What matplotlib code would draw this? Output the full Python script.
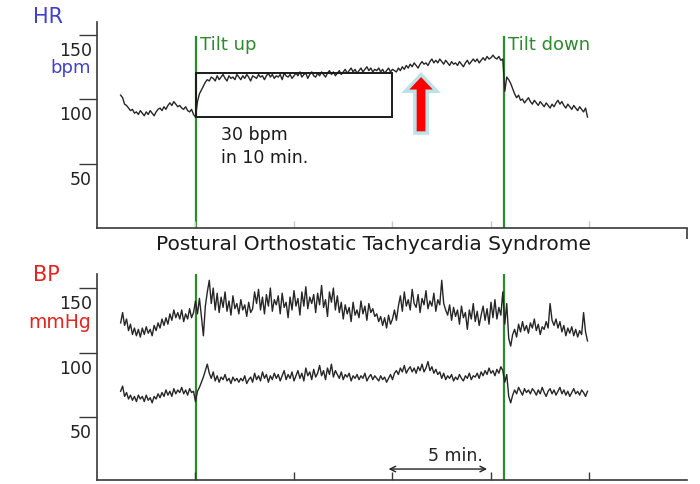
import numpy as np
import matplotlib
matplotlib.use("Agg")
import matplotlib.pyplot as plt
from matplotlib.patches import FancyArrow, Rectangle
from matplotlib.transforms import ScaledTranslation

# ---------------- data ----------------
t_start = 1.2      # minutes
t_step = 0.1       # minutes per sample

hr_bpm = [
    103, 101, 96, 95, 93, 91, 92, 89, 90, 88,
    91, 89, 87, 90, 88, 91, 89, 87, 90, 92,
    93, 91, 94, 92, 95, 97, 95, 98, 96, 94,
    95, 93, 92, 94, 91, 90, 92, 88, 86, 98,
    104, 107, 110, 113, 115, 114, 117, 116, 114, 118,
    115, 117, 119, 116, 114, 118, 116, 117, 115, 119,
    117, 115, 118, 116, 119, 117, 114, 118, 117, 116,
    119, 117, 118, 115, 118, 120, 117, 119, 116, 118,
    117, 119, 115, 120, 118, 117, 119, 116, 118, 120,
    118, 121, 117, 119, 120, 116, 119, 121, 118, 117,
    120, 118, 121, 119, 117, 120, 122, 119, 121, 118,
    120, 122, 119, 121, 123, 120, 122, 124, 121, 123,
    120, 122, 124, 121, 123, 125, 122, 124, 121, 123,
    122, 124, 121, 123, 120, 122, 124, 121, 123, 122,
    121, 124, 122, 125, 123, 126, 124, 127, 125, 128,
    126, 124, 127, 129, 127, 128, 126, 129, 131, 128,
    130, 128, 131, 129, 127, 130, 128, 126, 129, 127,
    128, 126, 129, 127, 125, 128, 130, 127, 129, 131,
    129, 131, 128, 130, 132, 130, 133, 131, 132, 134,
    132, 131, 133, 130, 131, 106, 117, 115, 112, 108,
    104, 101, 103, 99, 100, 97, 99, 101, 98, 96,
    99, 97, 95, 98, 96, 94, 97, 95, 93, 96,
    94, 97, 99, 96, 98, 95, 93, 96, 94, 92,
    95, 93, 91, 94, 92, 90, 93, 86,
]

bp_systolic = [
    123, 131, 121, 126, 117, 122, 114, 119, 113, 118,
    112, 119, 114, 120, 115, 118, 113, 121, 117, 123,
    119, 126, 121, 127, 122, 130, 125, 133, 127, 131,
    126, 133, 124, 130, 126, 134, 127, 131, 140, 130,
    142, 128, 113, 136, 147, 156, 138, 150, 133, 146,
    131, 143, 135, 147, 132, 140, 129, 144, 134, 138,
    130, 141, 133, 137, 128, 139, 131, 134, 147, 138,
    149, 133, 143, 130, 145, 136, 150, 132, 141, 137,
    144, 130, 146, 135, 139, 127, 143, 133, 148, 136,
    142, 129, 147, 136, 151, 134, 143, 138, 145, 131,
    146, 137, 152, 135, 141, 128, 147, 139, 150, 133,
    144, 131, 139, 126, 137, 130, 135, 124, 139, 129,
    133, 127, 140, 130, 136, 125, 138, 131, 134, 128,
    130, 124, 128, 121, 127, 119, 129, 122, 126, 133,
    125, 136, 144, 132, 147, 136, 141, 133, 149, 138,
    135, 145, 131, 142, 137, 148, 134, 140, 136, 146,
    132, 141, 137, 156, 138, 133, 129, 137, 125, 135,
    128, 133, 122, 136, 127, 131, 118, 133, 126, 138,
    124, 132, 121, 129, 136, 125, 134, 122, 139, 127,
    141, 126, 135, 129, 147, 122, 138, 111, 105, 114,
    118, 112, 122, 116, 124, 117, 121, 115, 123, 119,
    126, 117, 122, 114, 120, 118, 124, 119, 138, 125,
    121, 126, 119, 124, 116, 121, 113, 119, 115, 120,
    113, 118, 112, 117, 114, 131, 116, 109,
]

bp_diastolic = [
    70, 74, 66, 69, 64, 67, 63, 66, 62, 67,
    64, 66, 62, 67, 63, 65, 61, 66, 64, 68,
    65, 69, 66, 71, 67, 70, 66, 72, 68, 71,
    69, 73, 68, 71, 67, 72, 69, 70, 62, 70,
    73, 77, 81, 86, 91, 84, 80, 85, 78, 82,
    77, 81, 79, 83, 78, 80, 76, 81, 78, 80,
    77, 80, 78, 82, 76, 79, 81, 77, 84, 79,
    82, 78, 85, 80, 83, 77, 82, 79, 84, 80,
    83, 78, 82, 86, 79, 83, 80, 85, 78, 82,
    86, 80, 84, 78, 88, 82, 85, 79, 87, 81,
    84, 90, 82, 86, 79, 88, 83, 91, 81, 86,
    83, 80, 85, 79, 83, 81, 84, 78, 82, 80,
    83, 79, 82, 80, 84, 78, 81, 83, 79, 82,
    80, 78, 82, 79, 81, 77, 80, 83, 79, 84,
    86, 83, 88, 85, 90, 84, 87, 89, 85, 88,
    84, 89, 86, 91, 85, 88, 93, 86, 89, 84,
    87, 83, 85, 80, 84, 79, 82, 80, 83, 78,
    81, 79, 83, 80, 78, 82, 80, 84, 79, 82,
    81, 84, 80, 85, 82, 86, 83, 88, 84, 86,
    82, 87, 84, 89, 86, 77, 83, 66, 61, 67,
    71, 68, 73, 70, 67, 72, 69, 71, 68, 72,
    70, 67, 71, 68, 73, 69, 66, 70, 72, 68,
    71, 67, 70, 73, 68, 71, 67, 70, 66, 69,
    72, 68, 70, 67, 71, 69, 66, 70,
]

tilt_times = [5.03, 20.66]          # minutes
tilt_labels = ["Tilt up", "Tilt down"]
y_ticks = [50, 100, 150]
y_tick_labels = ["50", "100", "150"]
x_ticks = [5, 10, 15, 20, 25]
box_t = [5.03, 15.0]                 # 10 min window
box_hr = [86, 120]                   # ~30 bpm rise
arrow_t = 16.45
arrow_hr = [73.6, 119.0]
scale_t = [14.8, 19.8]               # 5 min scale bar

# ---------------- figure ----------------
W, H = 700, 484
fig = plt.figure(figsize=(W / 100, H / 100), dpi=100)
fig.patch.set_facecolor("white")

GREEN = "#2a8c2a"
TRACE = "#262626"
AXC = "#3a3a3a"
BLUE = "#4040d0"
RED = "#e8231f"

def px_rect(x0, y0, x1, y1):
    return [x0 / W, 1 - y1 / H, (x1 - x0) / W, (y1 - y0) / H]

ax1 = fig.add_axes(px_rect(97, 22, 687, 228))
ax2 = fig.add_axes(px_rect(97, 274, 687, 480))

t = t_start + t_step * np.arange(len(hr_bpm))

ax1.set_ylim(0, 159.7)
ax2.set_ylim(1.2, 160.9)

for ax in (ax1, ax2):
    ax.set_xlim(0, 29.95)
    ax.set_facecolor("none")
    for s in ("top", "right"):
        ax.spines[s].set_visible(False)
    for s in ("left", "bottom"):
        ax.spines[s].set_color(AXC)
        ax.spines[s].set_linewidth(1.2)
    ax.set_yticks(y_ticks)
    ax.set_yticklabels(y_tick_labels)
    ax.tick_params(axis="y", direction="out", length=13, width=1.0, color=AXC,
                   labelsize=12.5, pad=-9.4, labelcolor="#222222")
    for lab in ax.get_yticklabels():
        lab.set_transform(lab.get_transform() +
                          ScaledTranslation(0, -14 / 100, fig.dpi_scale_trans))
    ax.set_xticks(x_ticks)
    ax.set_xticklabels([])

ax1.tick_params(axis="x", direction="in", length=5, width=1.0, color="#c8c8c8")
ax1.set_xticks([29.95], minor=True)
ax1.tick_params(axis="x", which="minor", direction="out", length=8, width=1.2, color=AXC)
ax2.tick_params(axis="x", direction="in", length=6, width=1.0, color=AXC)

# traces
ax1.plot(t, hr_bpm, color=TRACE, lw=1.0)
ax2.plot(t, bp_systolic, color=TRACE, lw=1.0)
ax2.plot(t, bp_diastolic, color=TRACE, lw=1.0)

# tilt lines
for tt, lab in zip(tilt_times, tilt_labels):
    ax1.plot([tt, tt], [0, 148], color=GREEN, lw=1.6, zorder=1)
    ax2.axvline(tt, color=GREEN, lw=1.6, zorder=1)
    ax1.text(tt + 0.2, 142, lab, color=GREEN, fontsize=13, ha="left", va="center")

# box
ax1.add_patch(Rectangle((box_t[0], box_hr[0]), box_t[1] - box_t[0], box_hr[1] - box_hr[0],
                        fill=False, ec="#1a1a1a", lw=1.4, zorder=3))
ax1.text(6.3, 72, "30 bpm", fontsize=12.5, color="#1a1a1a", ha="left", va="center")
ax1.text(6.3, 54, "in 10 min.", fontsize=12.5, color="#1a1a1a", ha="left", va="center")

# red arrow
ax1.add_patch(FancyArrow(arrow_t, arrow_hr[0], 0, arrow_hr[1] - arrow_hr[0],
                         width=0.62, head_width=1.6, head_length=13,
                         length_includes_head=True, fc="#ff0000", ec="#b9e3e8",
                         lw=2.5, zorder=4))

# 5 min scale bar
ax2.annotate("", xy=(scale_t[1], 9.7), xytext=(scale_t[0], 9.7),
             arrowprops=dict(arrowstyle="<->", color="#222222", lw=1.0,
                             shrinkA=0, shrinkB=0))
ax2.text(16.8, 20, "5 min.", fontsize=12.5, color="#222222", ha="left", va="center")

# labels
def ftext(x, y, s, **kw):
    fig.text(x / W, 1 - y / H, s, **kw)

ftext(33, 17, "HR", color=BLUE, fontsize=15, ha="left", va="center")
ftext(91, 68, "bpm", color=BLUE, fontsize=13, ha="right", va="center")
ftext(33, 275, "BP", color=RED, fontsize=15, ha="left", va="center")
ftext(91, 322, "mmHg", color=RED, fontsize=13.5, ha="right", va="center")
ftext(374, 244, "Postural Orthostatic Tachycardia Syndrome", color="#1a1a1a",
      fontsize=14.5, ha="center", va="center")

fig.savefig("out.png", dpi=100)
